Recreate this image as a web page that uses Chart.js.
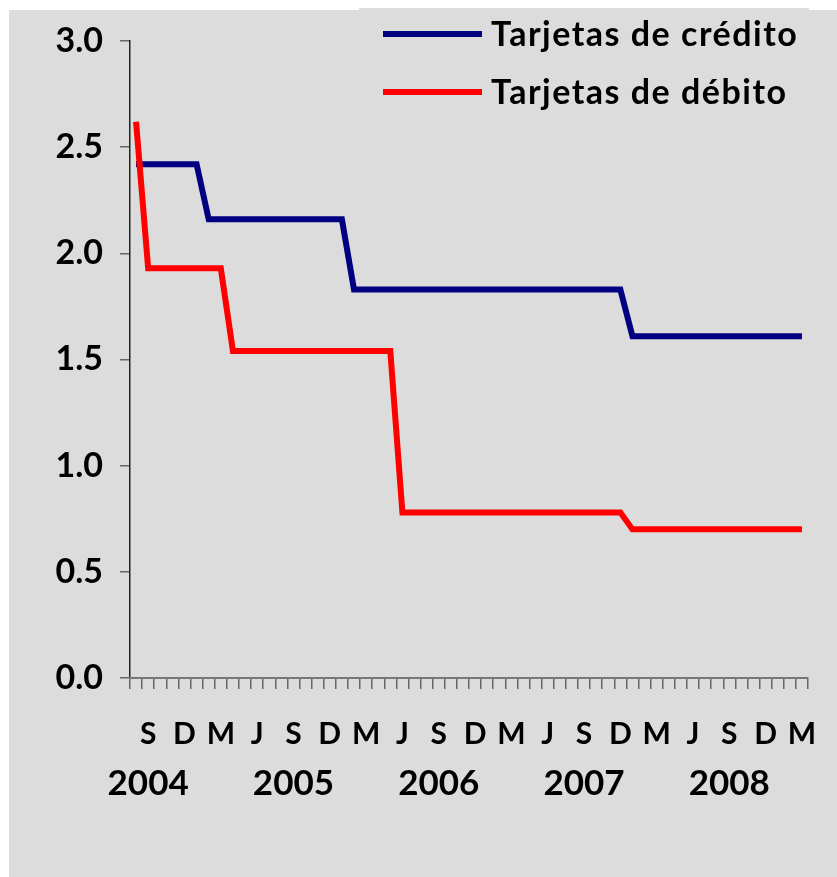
<!DOCTYPE html>
<html>
<head>
<meta charset="utf-8">
<script src="https://cdn.jsdelivr.net/npm/chart.js@4/dist/chart.umd.min.js"></script>
<style>
  html, body { margin: 0; padding: 0; background: #ffffff; }
  #wrap { position: relative; width: 837px; height: 877px; }
</style>
</head>
<body>
<div id="wrap"><canvas id="c" width="837" height="877"></canvas></div>
<script>
// Monthly categories, Aug 2004 – Mar 2009
const categories = [
  '2004-08','2004-09','2004-10','2004-11','2004-12',
  '2005-01','2005-02','2005-03','2005-04','2005-05','2005-06','2005-07','2005-08','2005-09','2005-10','2005-11','2005-12',
  '2006-01','2006-02','2006-03','2006-04','2006-05','2006-06','2006-07','2006-08','2006-09','2006-10','2006-11','2006-12',
  '2007-01','2007-02','2007-03','2007-04','2007-05','2007-06','2007-07','2007-08','2007-09','2007-10','2007-11','2007-12',
  '2008-01','2008-02','2008-03','2008-04','2008-05','2008-06','2008-07','2008-08','2008-09','2008-10','2008-11','2008-12',
  '2009-01','2009-02','2009-03'
];
// Month initials shown on the axis ('' = tick without label)
const monthTicks = [
  '','S','','','D',
  '','','M','','','J','','','S','','','D',
  '','','M','','','J','','','S','','','D',
  '','','M','','','J','','','S','','','D',
  '','','M','','','J','','','S','','','D',
  '','','M'
];
const yearTicks = [
  '','2004','','','',
  '','','','','','','','','2005','','','',
  '','','','','','','','','2006','','','',
  '','','','','','','','','2007','','','',
  '','','','','','','','','2008','','','',
  '','',''
];
const seriesNames = ['Tarjetas de crédito', 'Tarjetas de débito'];
const credito = [
  2.42,2.42,2.42,2.42,2.42,
  2.42,2.16,2.16,2.16,2.16,2.16,2.16,2.16,2.16,2.16,2.16,2.16,
  2.16,1.83,1.83,1.83,1.83,1.83,1.83,1.83,1.83,1.83,1.83,1.83,
  1.83,1.83,1.83,1.83,1.83,1.83,1.83,1.83,1.83,1.83,1.83,1.83,
  1.61,1.61,1.61,1.61,1.61,1.61,1.61,1.61,1.61,1.61,1.61,1.61,
  1.61,1.61,1.61
];
const debito = [
  2.62,1.93,1.93,1.93,1.93,
  1.93,1.93,1.93,1.54,1.54,1.54,1.54,1.54,1.54,1.54,1.54,1.54,
  1.54,1.54,1.54,1.54,1.54,0.78,0.78,0.78,0.78,0.78,0.78,0.78,
  0.78,0.78,0.78,0.78,0.78,0.78,0.78,0.78,0.78,0.78,0.78,0.78,
  0.70,0.70,0.70,0.70,0.70,0.70,0.70,0.70,0.70,0.70,0.70,0.70,
  0.70,0.70,0.70
];
const yMin = 0, yMax = 3, yStep = 0.5;

const FONT = 'Lato, "DejaVu Sans", sans-serif';
const colors = ['#000080', '#ff0000'];

const bgPlugin = {
  id: 'bg',
  beforeDraw(chart) {
    const ctx = chart.ctx;
    ctx.save();
    ctx.fillStyle = '#ffffff';
    ctx.fillRect(0, 0, chart.width, chart.height);
    ctx.fillStyle = '#dcdcdc';
    ctx.fillRect(9, 10, chart.width - 9, chart.height - 10);
    ctx.fillRect(359, 8, 450, 3);
    ctx.restore();
  }
};

const legendPlugin = {
  id: 'customLegend',
  afterDraw(chart) {
    const ctx = chart.ctx;
    ctx.save();
    const rows = [34, 92];
    chart.data.datasets.forEach((ds, i) => {
      const y = rows[i];
      ctx.strokeStyle = ds.borderColor;
      ctx.lineWidth = 6;
      ctx.lineCap = 'butt';
      ctx.beginPath();
      ctx.moveTo(383, y);
      ctx.lineTo(482, y);
      ctx.stroke();
      ctx.fillStyle = '#000000';
      ctx.font = 'bold 34px ' + FONT;
      ctx.textBaseline = 'middle';
      ctx.textAlign = 'left';
      try { ctx.letterSpacing = '1.5px'; } catch (e) {}
      ctx.fillText(ds.label, 491, y + 1);
    });
    ctx.restore();
  }
};

function noSidePadding(s) {
  s.paddingLeft = 0;
  s.paddingRight = 0;
}

new Chart(document.getElementById('c'), {
  type: 'line',
  data: {
    labels: categories,
    datasets: [
      { label: seriesNames[0], data: credito, borderColor: colors[0], backgroundColor: colors[0],
        borderWidth: 6, pointRadius: 0, tension: 0, fill: false, order: 1 },
      { label: seriesNames[1], data: debito, borderColor: colors[1], backgroundColor: colors[1],
        borderWidth: 6, pointRadius: 0, tension: 0, fill: false, order: 0 }
    ]
  },
  options: {
    responsive: false,
    animation: false,
    devicePixelRatio: 1,
    layout: { padding: { top: 41, left: 0, right: 29, bottom: 69 } },
    plugins: { legend: { display: false }, tooltip: { enabled: false } },
    scales: {
      y: {
        min: yMin, max: yMax,
        afterFit(s) { s.width = 130; },
        ticks: { stepSize: yStep, padding: 17, color: '#000',
          font: { family: FONT, size: 34, weight: 'bold' },
          callback: v => v.toFixed(1) },
        grid: { drawOnChartArea: false, tickLength: 10, color: '#666', lineWidth: 1.5 },
        border: { color: '#222', width: 1.5 }
      },
      x: {
        offset: true,
        afterFit(s) { s.height = 75; noSidePadding(s); },
        grid: { offset: true, drawOnChartArea: false, tickLength: 11, color: '#666', lineWidth: 1.5 },
        border: { color: '#777', width: 2 },
        ticks: { autoSkip: false, maxRotation: 0, minRotation: 0, padding: 27, color: '#000',
          font: { family: FONT, size: 30, weight: 'bold' },
          callback: (v, i) => monthTicks[i] }
      },
      x2: {
        type: 'category',
        position: 'bottom',
        offset: true,
        weight: 1,
        afterFit(s) { s.height = 55; noSidePadding(s); },
        grid: { display: false, drawOnChartArea: false },
        border: { display: false },
        ticks: { autoSkip: false, maxRotation: 0, minRotation: 0, padding: 2, color: '#000',
          font: { family: FONT, size: 35, weight: 'bold' },
          callback: (v, i) => yearTicks[i] }
      }
    }
  },
  plugins: [bgPlugin, legendPlugin]
});
</script>
</body>
</html>
